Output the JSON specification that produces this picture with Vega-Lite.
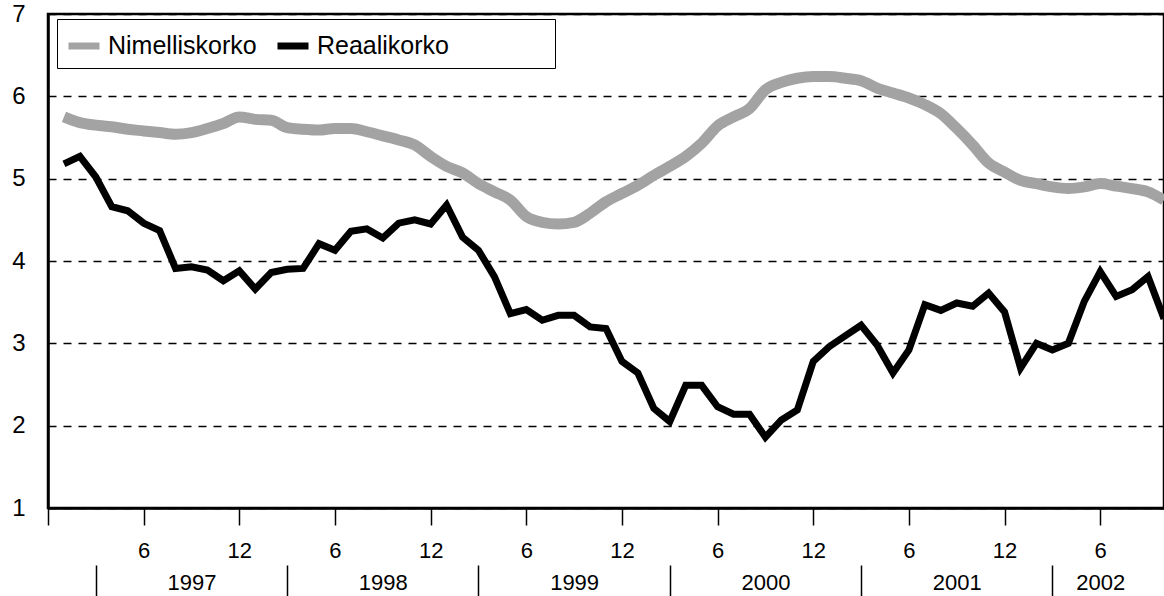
{
  "$schema": "https://vega.github.io/schema/vega-lite/v6.json",
  "width": 1116,
  "height": 494,
  "autosize": {"type": "none"},
  "padding": {"left": 48, "top": 14, "right": 0, "bottom": 88},
  "background": "white",
  "config": {"view": {"stroke": "black", "strokeWidth": 2.5}, "font": "Liberation Sans"},
  "data": {"values": [
    {"month":1,"series":"Nimelliskorko","value":5.75},{"month":2,"series":"Nimelliskorko","value":5.68},{"month":3,"series":"Nimelliskorko","value":5.65},{"month":4,"series":"Nimelliskorko","value":5.63},{"month":5,"series":"Nimelliskorko","value":5.60},{"month":6,"series":"Nimelliskorko","value":5.58},{"month":7,"series":"Nimelliskorko","value":5.56},{"month":8,"series":"Nimelliskorko","value":5.54},{"month":9,"series":"Nimelliskorko","value":5.56},{"month":10,"series":"Nimelliskorko","value":5.61},
    {"month":11,"series":"Nimelliskorko","value":5.67},{"month":12,"series":"Nimelliskorko","value":5.75},{"month":13,"series":"Nimelliskorko","value":5.72},{"month":14,"series":"Nimelliskorko","value":5.71},{"month":15,"series":"Nimelliskorko","value":5.62},{"month":16,"series":"Nimelliskorko","value":5.60},{"month":17,"series":"Nimelliskorko","value":5.59},{"month":18,"series":"Nimelliskorko","value":5.61},{"month":19,"series":"Nimelliskorko","value":5.61},{"month":20,"series":"Nimelliskorko","value":5.57},
    {"month":21,"series":"Nimelliskorko","value":5.52},{"month":22,"series":"Nimelliskorko","value":5.47},{"month":23,"series":"Nimelliskorko","value":5.41},{"month":24,"series":"Nimelliskorko","value":5.27},{"month":25,"series":"Nimelliskorko","value":5.15},{"month":26,"series":"Nimelliskorko","value":5.07},{"month":27,"series":"Nimelliskorko","value":4.94},{"month":28,"series":"Nimelliskorko","value":4.84},{"month":29,"series":"Nimelliskorko","value":4.74},{"month":30,"series":"Nimelliskorko","value":4.54},
    {"month":31,"series":"Nimelliskorko","value":4.47},{"month":32,"series":"Nimelliskorko","value":4.45},{"month":33,"series":"Nimelliskorko","value":4.47},{"month":34,"series":"Nimelliskorko","value":4.58},{"month":35,"series":"Nimelliskorko","value":4.72},{"month":36,"series":"Nimelliskorko","value":4.82},{"month":37,"series":"Nimelliskorko","value":4.92},{"month":38,"series":"Nimelliskorko","value":5.04},{"month":39,"series":"Nimelliskorko","value":5.15},{"month":40,"series":"Nimelliskorko","value":5.27},
    {"month":41,"series":"Nimelliskorko","value":5.43},{"month":42,"series":"Nimelliskorko","value":5.64},{"month":43,"series":"Nimelliskorko","value":5.75},{"month":44,"series":"Nimelliskorko","value":5.85},{"month":45,"series":"Nimelliskorko","value":6.08},{"month":46,"series":"Nimelliskorko","value":6.17},{"month":47,"series":"Nimelliskorko","value":6.22},{"month":48,"series":"Nimelliskorko","value":6.24},{"month":49,"series":"Nimelliskorko","value":6.24},{"month":50,"series":"Nimelliskorko","value":6.22},
    {"month":51,"series":"Nimelliskorko","value":6.19},{"month":52,"series":"Nimelliskorko","value":6.10},{"month":53,"series":"Nimelliskorko","value":6.04},{"month":54,"series":"Nimelliskorko","value":5.98},{"month":55,"series":"Nimelliskorko","value":5.90},{"month":56,"series":"Nimelliskorko","value":5.79},{"month":57,"series":"Nimelliskorko","value":5.61},{"month":58,"series":"Nimelliskorko","value":5.41},{"month":59,"series":"Nimelliskorko","value":5.19},{"month":60,"series":"Nimelliskorko","value":5.08},
    {"month":61,"series":"Nimelliskorko","value":4.98},{"month":62,"series":"Nimelliskorko","value":4.94},{"month":63,"series":"Nimelliskorko","value":4.90},{"month":64,"series":"Nimelliskorko","value":4.88},{"month":65,"series":"Nimelliskorko","value":4.90},{"month":66,"series":"Nimelliskorko","value":4.94},{"month":67,"series":"Nimelliskorko","value":4.91},{"month":68,"series":"Nimelliskorko","value":4.88},{"month":69,"series":"Nimelliskorko","value":4.84},{"month":70,"series":"Nimelliskorko","value":4.74},
    {"month":1,"series":"Reaalikorko","value":5.18},{"month":2,"series":"Reaalikorko","value":5.27},{"month":3,"series":"Reaalikorko","value":5.02},{"month":4,"series":"Reaalikorko","value":4.66},{"month":5,"series":"Reaalikorko","value":4.61},{"month":6,"series":"Reaalikorko","value":4.46},{"month":7,"series":"Reaalikorko","value":4.37},{"month":8,"series":"Reaalikorko","value":3.91},{"month":9,"series":"Reaalikorko","value":3.93},{"month":10,"series":"Reaalikorko","value":3.89},
    {"month":11,"series":"Reaalikorko","value":3.76},{"month":12,"series":"Reaalikorko","value":3.88},{"month":13,"series":"Reaalikorko","value":3.66},{"month":14,"series":"Reaalikorko","value":3.86},{"month":15,"series":"Reaalikorko","value":3.90},{"month":16,"series":"Reaalikorko","value":3.91},{"month":17,"series":"Reaalikorko","value":4.21},{"month":18,"series":"Reaalikorko","value":4.13},{"month":19,"series":"Reaalikorko","value":4.36},{"month":20,"series":"Reaalikorko","value":4.39},
    {"month":21,"series":"Reaalikorko","value":4.28},{"month":22,"series":"Reaalikorko","value":4.46},{"month":23,"series":"Reaalikorko","value":4.50},{"month":24,"series":"Reaalikorko","value":4.45},{"month":25,"series":"Reaalikorko","value":4.68},{"month":26,"series":"Reaalikorko","value":4.29},{"month":27,"series":"Reaalikorko","value":4.13},{"month":28,"series":"Reaalikorko","value":3.81},{"month":29,"series":"Reaalikorko","value":3.36},{"month":30,"series":"Reaalikorko","value":3.41},
    {"month":31,"series":"Reaalikorko","value":3.28},{"month":32,"series":"Reaalikorko","value":3.34},{"month":33,"series":"Reaalikorko","value":3.34},{"month":34,"series":"Reaalikorko","value":3.20},{"month":35,"series":"Reaalikorko","value":3.18},{"month":36,"series":"Reaalikorko","value":2.78},{"month":37,"series":"Reaalikorko","value":2.64},{"month":38,"series":"Reaalikorko","value":2.21},{"month":39,"series":"Reaalikorko","value":2.05},{"month":40,"series":"Reaalikorko","value":2.49},
    {"month":41,"series":"Reaalikorko","value":2.49},{"month":42,"series":"Reaalikorko","value":2.23},{"month":43,"series":"Reaalikorko","value":2.14},{"month":44,"series":"Reaalikorko","value":2.14},{"month":45,"series":"Reaalikorko","value":1.86},{"month":46,"series":"Reaalikorko","value":2.07},{"month":47,"series":"Reaalikorko","value":2.19},{"month":48,"series":"Reaalikorko","value":2.78},{"month":49,"series":"Reaalikorko","value":2.96},{"month":50,"series":"Reaalikorko","value":3.09},
    {"month":51,"series":"Reaalikorko","value":3.22},{"month":52,"series":"Reaalikorko","value":2.98},{"month":53,"series":"Reaalikorko","value":2.64},{"month":54,"series":"Reaalikorko","value":2.92},{"month":55,"series":"Reaalikorko","value":3.47},{"month":56,"series":"Reaalikorko","value":3.40},{"month":57,"series":"Reaalikorko","value":3.49},{"month":58,"series":"Reaalikorko","value":3.45},{"month":59,"series":"Reaalikorko","value":3.61},{"month":60,"series":"Reaalikorko","value":3.38},
    {"month":61,"series":"Reaalikorko","value":2.70},{"month":62,"series":"Reaalikorko","value":3.00},{"month":63,"series":"Reaalikorko","value":2.92},{"month":64,"series":"Reaalikorko","value":3.00},{"month":65,"series":"Reaalikorko","value":3.51},{"month":66,"series":"Reaalikorko","value":3.87},{"month":67,"series":"Reaalikorko","value":3.57},{"month":68,"series":"Reaalikorko","value":3.65},{"month":69,"series":"Reaalikorko","value":3.81},{"month":70,"series":"Reaalikorko","value":3.30}
  ]},
  "encoding": {
    "x": {
      "field": "month", "type": "quantitative",
      "scale": {"domain": [0, 70], "nice": false, "zero": false},
      "axis": {
        "title": null,
        "values": [0,3,6,9,12,15,18,21,24,27,30,33,36,39,42,45,48,51,54,57,60,63,66],
        "grid": false,
        "domainColor": "black", "domainWidth": 2.5,
        "ticks": true, "tickColor": "black", "tickWidth": 1.5,
        "tickSize": {"condition": {"test": "datum.value % 12 == 3", "value": 88}, "value": 17},
        "tickDash": {"condition": {"test": "datum.value % 12 == 3", "value": [0, 57, 31]}, "value": []},
        "tickOpacity": {"condition": {"test": "datum.value % 12 == 9", "value": 0}, "value": 1},
        "labelExpr": "datum.value == 0 || datum.value % 12 == 3 ? '' : (datum.value % 12 == 9 ? ['', '' + (1997 + floor(datum.value / 12))] : (datum.value == 66 ? ['6', '2002'] : (datum.value % 12 == 0 ? '12' : '6')))",
        "labelFont": "Liberation Sans", "labelFontSize": 22, "labelColor": "black",
        "labelPadding": 15, "labelLineHeight": 32, "labelAngle": 0,
        "labelOverlap": false, "labelFlush": false, "labelBound": false
      }
    },
    "y": {
      "field": "value", "type": "quantitative",
      "scale": {"domain": [1, 7], "nice": false, "zero": false},
      "axis": {
        "title": null,
        "values": [1,2,3,4,5,6,7],
        "ticks": false,
        "domainColor": "black", "domainWidth": 2.5,
        "grid": true, "gridColor": "black", "gridDash": [8, 7], "gridWidth": 1.5,
        "labelFont": "Liberation Sans", "labelFontSize": 24, "labelColor": "black",
        "labelPadding": 23, "labelOverlap": false, "labelFlush": false, "labelBound": false
      }
    },
    "color": {
      "field": "series", "type": "nominal",
      "scale": {"domain": ["Nimelliskorko", "Reaalikorko"], "range": ["#a3a3a3", "#000000"]},
      "legend": {
        "title": null, "orient": "none", "legendX": 9, "legendY": 5,
        "direction": "horizontal",
        "strokeColor": "black", "fillColor": "white", "padding": 8,
        "symbolType": "stroke", "symbolSize": 961, "symbolStrokeWidth": 7,
        "labelFont": "Liberation Sans", "labelFontSize": 25, "labelColor": "black",
        "labelOffset": 5, "columnPadding": 6, "labelLimit": 600,
        "labelExpr": "datum.label == 'Reaalikorko' ? datum.label + '\u00a0\u00a0\u00a0\u00a0\u00a0\u00a0\u00a0\u00a0\u00a0\u00a0\u00a0\u00a0\u00a0\u00a0\u200b' : datum.label"
      }
    }
  },
  "layer": [
    {
      "transform": [{"filter": "datum.series == 'Nimelliskorko'"}],
      "mark": {"type": "line", "interpolate": "monotone", "strokeWidth": 11, "strokeJoin": "round"}
    },
    {
      "transform": [{"filter": "datum.series == 'Reaalikorko'"}],
      "mark": {"type": "line", "strokeWidth": 7, "strokeJoin": "miter", "strokeMiterLimit": 4}
    }
  ]
}
